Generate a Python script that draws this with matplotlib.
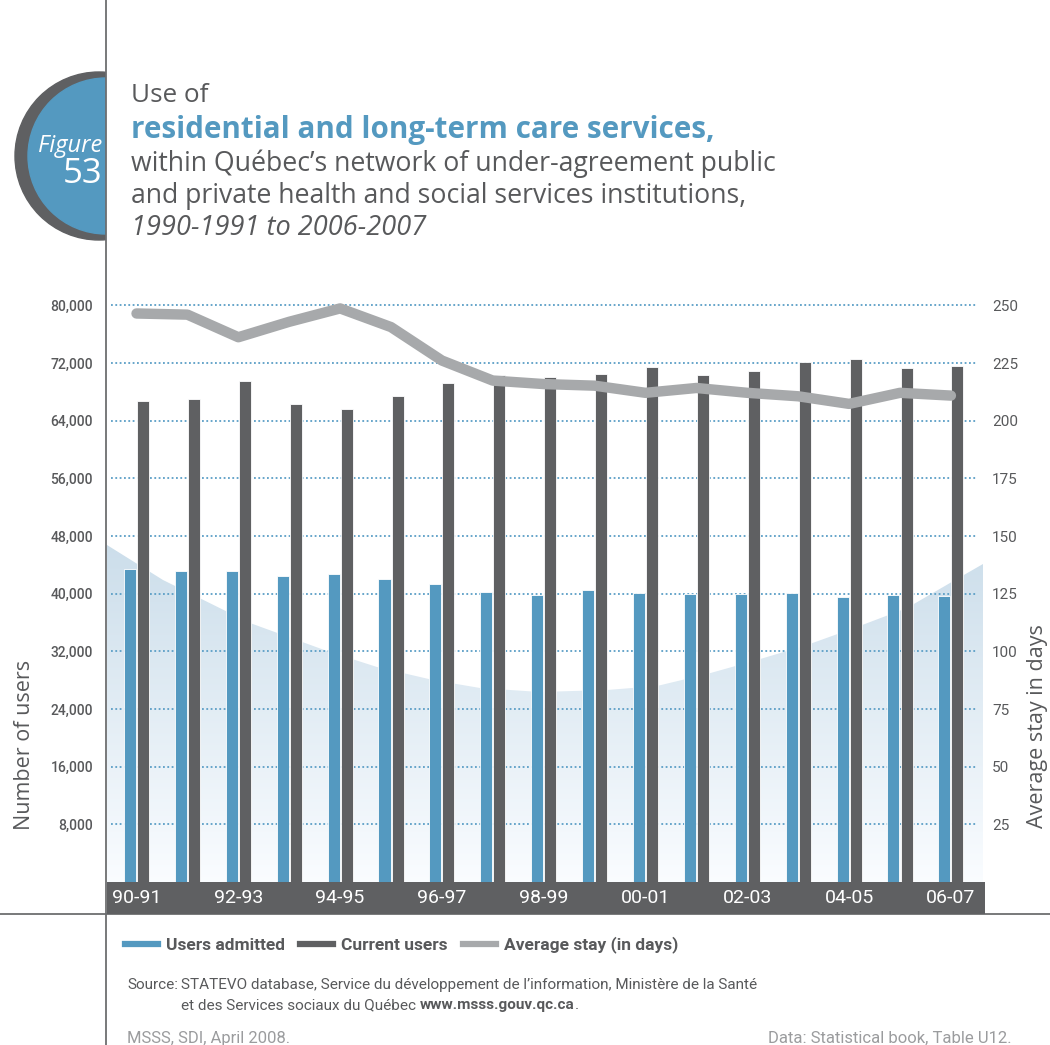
import numpy as np
import matplotlib
matplotlib.use("Agg")
import matplotlib.pyplot as plt
from matplotlib.patches import Circle, Rectangle, Polygon
from matplotlib.lines import Line2D

# data
years = ["90-91", "91-92", "92-93", "93-94", "94-95", "95-96", "96-97", "97-98", "98-99",
         "99-00", "00-01", "01-02", "02-03", "03-04", "04-05", "05-06", "06-07"]
users_admitted = [43400, 43150, 43150, 42450, 42700, 42050, 41350, 40250, 39850,
                  40500, 40100, 39950, 39950, 40100, 39550, 39850, 39700]
current_users = [66750, 67050, 69500, 66350, 65650, 67450, 69250, 70350, 70050,
                 70500, 71450, 70350, 70900, 72150, 72600, 71350, 71600]
average_stay = [246.5, 246.0, 236.2, 242.9, 248.7, 240.6, 226.1, 217.4, 215.9,
                215.2, 212.1, 214.2, 212.1, 210.6, 207.3, 212.1, 210.9]
left_ticks = [8000, 16000, 24000, 32000, 40000, 48000, 56000, 64000, 72000, 80000]
right_ticks = [25, 50, 75, 100, 125, 150, 175, 200, 225, 250]

BLUE = "#5499c0"
DARK = "#5f6062"
LIGHT = "#a7a9ab"
TEXT = "#58595b"
GRID = "#5b9ec6"
NARROW = ["Roboto", "DejaVu Sans"]

plt.rcParams["font.family"] = ["Open Sans", "DejaVu Sans"]

W, H = 1050, 1045
fig = plt.figure(figsize=(W / 100, H / 100), dpi=100)

# overlay in pixel coordinates for decoration and header
bg = fig.add_axes([0, 0, 1, 1], zorder=0)
bg.set_xlim(0, W)
bg.set_ylim(H, 0)
bg.axis("off")

clip = Rectangle((0, 0), 106, 400, transform=bg.transData)
ring = Circle((99, 156), 84, color=DARK, zorder=1)
disc = Circle((106, 156), 78, color=BLUE, zorder=2)
for c in (ring, disc):
    bg.add_patch(c)
    c.set_clip_path(clip)
bg.plot([106, 106], [0, H], color="#6d6e70", lw=1.3, zorder=3)
bg.plot([0, W], [913.5, 913.5], color="#6d6e70", lw=1.3, zorder=3)
bg.text(102, 146, "Figure", color="white", fontsize=17, style="italic",
        ha="right", va="center", zorder=4)
bg.text(102, 174, "53", color="white", fontsize=25,
        ha="right", va="center", zorder=4)

bg.text(131, 96, "Use of", color=TEXT, fontsize=18.8, va="center")
bg.text(131, 130, "residential and long-term care services,", color=BLUE,
        fontsize=21.3, fontweight="bold", va="center")
bg.text(131, 164, "within Québec’s network of under-agreement public", color=TEXT,
        fontsize=19.2, va="center")
bg.text(131, 196, "and private health and social services institutions,", color=TEXT,
        fontsize=19.2, va="center")
bg.text(131, 228, "1990-1991 to 2006-2007", color=TEXT, fontsize=19.5,
        style="italic", va="center")

# main chart
x = np.arange(len(years))
ax = fig.add_axes([107 / W, (H - 882) / H, 878 / W, 591 / H], zorder=2)
ax.patch.set_alpha(0)
ax.set_xlim(-0.58, 16.67)
ax.set_ylim(0, 82000)
for s in ax.spines.values():
    s.set_visible(False)

# soft background valley
curve = [(107, 545), (163, 580), (250, 623), (327, 651), (377, 667), (433, 680),
         (480, 688), (540, 692), (607, 690), (657, 686), (707, 674), (757, 660),
         (807, 645), (857, 627), (907, 608), (950, 583), (983, 564)]
poly = [((px - 107) / 878, (882 - py) / 591) for px, py in curve]
poly += [((983 - 107) / 878, 0), (0, 0)]
grad = np.linspace(0, 1, 256)[:, None]
top_c = np.array([0.80, 0.87, 0.92])
bot_c = np.array([0.98, 0.99, 1.0])
img = top_c + (bot_c - top_c) * grad[..., None]
y_top = (882 - 545) / 591
im = ax.imshow(img, extent=(0, 1, 0, y_top), transform=ax.transAxes,
               aspect="auto", zorder=0, origin="upper")
im.set_clip_path(Polygon(poly, closed=True, transform=ax.transAxes))

ax.hlines(left_ticks, -0.5, 16.5, colors=GRID, linestyles=(0, (1, 1.4)),
          lw=1.3, zorder=1)

bw = 0.236
ax.bar(x - 0.128, users_admitted, bw, color=BLUE, edgecolor="white", lw=0.6, zorder=2)
ax.bar(x + 0.128, current_users, bw, color=DARK, edgecolor="white", lw=0.6, zorder=2)

ax.set_xticks([])
ax.set_yticks(left_ticks)
ax.set_yticklabels([f"{v:,}" for v in left_ticks], fontsize=10,
                   color=TEXT, fontweight="medium", family=NARROW)
ax.tick_params(axis="y", length=0, pad=10)
ax.set_ylabel("Number of users", fontsize=15.5, color=TEXT, va="center")
ax.yaxis.set_label_coords((25 - 107) / 878, (882 - 745) / 591)

ax2 = ax.twinx()
ax2.set_ylim(0, 82000 / 320)
ax2.plot(x, average_stay, color=LIGHT, lw=7.5, solid_capstyle="round",
         solid_joinstyle="round", zorder=3)
for s in ax2.spines.values():
    s.set_visible(False)
ax2.set_yticks(right_ticks)
ax2.set_yticklabels([str(v) for v in right_ticks], fontsize=11, color=TEXT,
                    family=NARROW)
ax2.tick_params(axis="y", length=0, pad=5)
ax2.set_ylabel("Average stay in days", fontsize=15.5, color=TEXT, va="center",
               rotation=90)
ax2.yaxis.set_label_coords((1037 - 107) / 878, (882 - 726) / 591)

# dark band with category labels
band = fig.add_axes([107 / W, (H - 914) / H, 878 / W, 32 / H], zorder=2)
band.set_facecolor(DARK)
band.set_xlim(ax.get_xlim())
band.set_ylim(0, 1)
for s in band.spines.values():
    s.set_visible(False)
band.set_xticks([])
band.set_yticks([])
for i in range(0, len(years), 2):
    band.text(x[i], 0.5, years[i], color="white", fontsize=14, ha="center",
              va="center", family=NARROW)

# legend
handles = [Line2D([], [], color=BLUE, lw=4.5),
           Line2D([], [], color=DARK, lw=4.5),
           Line2D([], [], color=LIGHT, lw=4.5)]
fig.legend(handles, ["Users admitted", "Current users", "Average stay (in days)"],
           loc="center left", bbox_to_anchor=(125 / W, 1 - 945 / H), ncol=3,
           frameon=False, handlelength=1.9, handletextpad=0.45, columnspacing=0.9,
           borderpad=0, borderaxespad=0,
           prop={"family": NARROW, "size": 12.5, "weight": "bold"}, labelcolor=TEXT)

# source notes
src = dict(fontsize=11, color=TEXT, family=NARROW, va="center")
bg.text(127, 985, "Source:", **src)
bg.text(181, 985, "STATEVO database, Service du développement de l’information, "
        "Ministère de la Santé", **src)
t1 = bg.text(181, 1005, "et des Services sociaux du Québec ", **src)
fig.canvas.draw()
r = fig.canvas.get_renderer()
e1 = t1.get_window_extent(r)
t2 = bg.text(e1.x1, 1005, "www.msss.gouv.qc.ca", fontweight="bold", **src)
e2 = t2.get_window_extent(r)
bg.text(e2.x1, 1005, ".", **src)

bg.text(127, 1038, "MSSS, SDI, April 2008.", fontsize=12, color="#9b9c9e",
        family=NARROW, va="center")
bg.text(1012, 1038, "Data: Statistical book, Table U12.", fontsize=12,
        color="#9b9c9e", family=NARROW, va="center", ha="right")

fig.savefig("out.png", dpi=100)
